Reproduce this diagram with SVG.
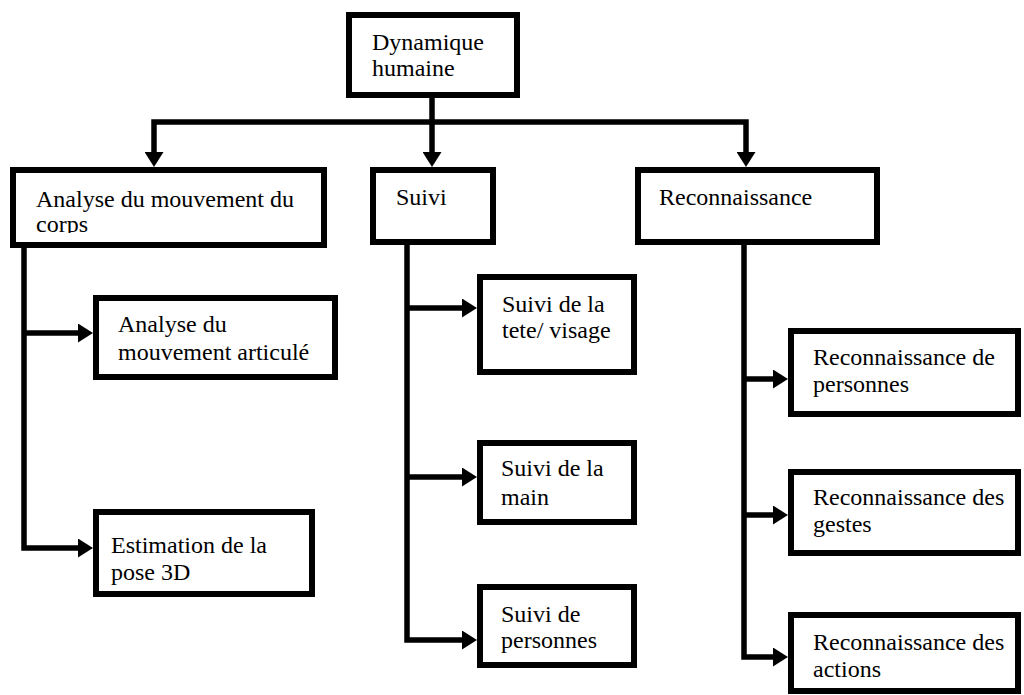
<svg xmlns="http://www.w3.org/2000/svg" width="1024" height="695" viewBox="0 0 1024 695">
  <style>
    .box { fill: #ffffff; stroke: #000000; stroke-width: 6; }
    .lbl { font-family: "Liberation Serif", "Times New Roman", serif; font-size: 24px; fill: #000000; }
    .wire { fill: none; stroke: #000000; stroke-width: 5.5; stroke-linejoin: miter; }
  </style>
  <defs>
    <marker id="head" viewBox="0 0 15 19" refX="0" refY="9.5" markerWidth="15" markerHeight="19" markerUnits="userSpaceOnUse" orient="auto">
      <path d="M0,0 L15,9.5 L0,19 Z" fill="#000000"/>
    </marker>
    <clipPath id="corpsClip">
      <rect x="16" y="173" width="305" height="60"/>
    </clipPath>
  </defs>

  <rect width="1024" height="695" fill="#ffffff"/>

  <!-- connectors -->
  <g id="connectors">
    <path class="wire" d="M432,98 V152" marker-end="url(#head)"/>
    <path class="wire" d="M432,122 H154 V152" marker-end="url(#head)"/>
    <path class="wire" d="M432,122 H746 V152" marker-end="url(#head)"/>

    <path class="wire" d="M24,248 V548 H78" marker-end="url(#head)"/>
    <path class="wire" d="M24,333 H78" marker-end="url(#head)"/>

    <path class="wire" d="M407,245 V640 H462" marker-end="url(#head)"/>
    <path class="wire" d="M407,308 H462" marker-end="url(#head)"/>
    <path class="wire" d="M407,477 H462" marker-end="url(#head)"/>

    <path class="wire" d="M744,245 V657 H773" marker-end="url(#head)"/>
    <path class="wire" d="M744,379 H773" marker-end="url(#head)"/>
    <path class="wire" d="M744,515 H773" marker-end="url(#head)"/>
  </g>

  <!-- root -->
  <g id="dynamique">
    <rect class="box" x="349" y="15" width="168" height="80"/>
    <text class="lbl" x="372" y="50">Dynamique</text>
    <text class="lbl" x="372" y="76">humaine</text>
  </g>

  <!-- second level -->
  <g id="analyse-corps">
    <rect class="box" x="13" y="170" width="311" height="75"/>
    <g clip-path="url(#corpsClip)">
      <text class="lbl" x="36" y="207">Analyse du mouvement du</text>
      <text class="lbl" x="36" y="232">corps</text>
    </g>
  </g>

  <g id="suivi">
    <rect class="box" x="373" y="170" width="120" height="72"/>
    <text class="lbl" x="396" y="205">Suivi</text>
  </g>

  <g id="reconnaissance">
    <rect class="box" x="638" y="170" width="239" height="72"/>
    <text class="lbl" x="659" y="205">Reconnaissance</text>
  </g>

  <!-- body motion branch -->
  <g id="mouvement-articule">
    <rect class="box" x="96" y="298" width="239" height="79"/>
    <text class="lbl" x="118" y="332">Analyse du</text>
    <text class="lbl" x="118" y="360">mouvement articulé</text>
  </g>

  <g id="estimation-pose">
    <rect class="box" x="96" y="512" width="216" height="82"/>
    <text class="lbl" x="111" y="553">Estimation de la</text>
    <text class="lbl" x="111" y="580">pose 3D</text>
  </g>

  <!-- tracking branch -->
  <g id="suivi-tete">
    <rect class="box" x="480" y="277" width="154" height="95"/>
    <text class="lbl" x="502" y="312">Suivi de la</text>
    <text class="lbl" x="502" y="338">tete/ visage</text>
  </g>

  <g id="suivi-main">
    <rect class="box" x="480" y="443" width="154" height="79"/>
    <text class="lbl" x="501" y="476">Suivi de la</text>
    <text class="lbl" x="501" y="505">main</text>
  </g>

  <g id="suivi-personnes">
    <rect class="box" x="480" y="587" width="154" height="78"/>
    <text class="lbl" x="501" y="622">Suivi de</text>
    <text class="lbl" x="501" y="648">personnes</text>
  </g>

  <!-- recognition branch -->
  <g id="reco-personnes">
    <rect class="box" x="791" y="331" width="227" height="83"/>
    <text class="lbl" x="813" y="365">Reconnaissance de</text>
    <text class="lbl" x="813" y="392">personnes</text>
  </g>

  <g id="reco-gestes">
    <rect class="box" x="791" y="472" width="227" height="81"/>
    <text class="lbl" x="813" y="505">Reconnaissance des</text>
    <text class="lbl" x="813" y="532">gestes</text>
  </g>

  <g id="reco-actions">
    <rect class="box" x="791" y="615" width="227" height="76"/>
    <text class="lbl" x="813" y="650">Reconnaissance des</text>
    <text class="lbl" x="813" y="677">actions</text>
  </g>
</svg>
